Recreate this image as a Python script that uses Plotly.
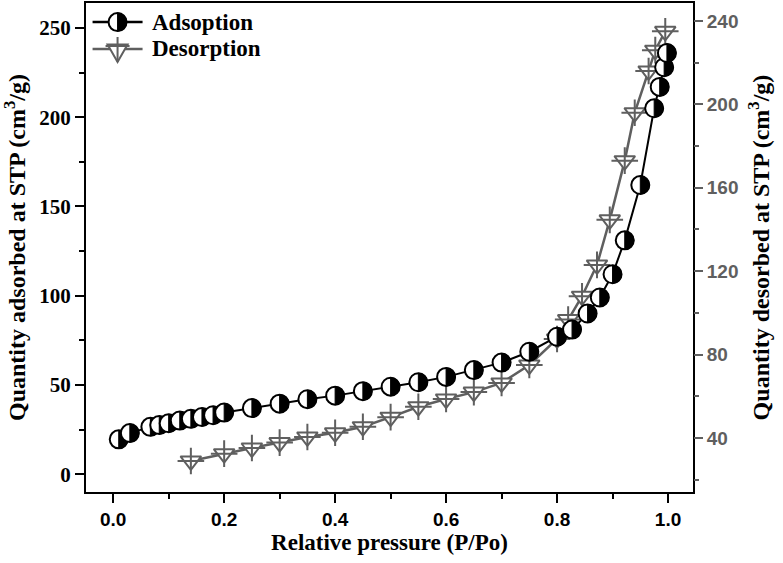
import plotly.graph_objects as go

# relative pressure / quantity values
ads_p = [0.01, 0.03, 0.067, 0.083, 0.10, 0.12, 0.14, 0.16, 0.18, 0.20, 0.25, 0.30, 0.35, 0.40,
         0.45, 0.50, 0.55, 0.60, 0.65, 0.70, 0.75, 0.80, 0.827, 0.855, 0.877, 0.90, 0.922,
         0.95, 0.975, 0.985, 0.993, 0.998]
ads_q = [19.5, 23, 26.5, 27.5, 28.5, 30, 31, 32, 33, 34.5, 37, 39.5, 42, 44,
         46.5, 49, 51.5, 54.5, 58.3, 62.5, 68.6, 77, 81, 90, 99, 112, 131,
         162, 205, 217, 228, 236]

des_p = [0.14, 0.20, 0.25, 0.30, 0.35, 0.40, 0.45, 0.50, 0.55, 0.60, 0.65, 0.70, 0.75,
         0.80, 0.82, 0.845, 0.872, 0.895, 0.922, 0.94, 0.965, 0.977, 0.995]
des_q = [29, 32.5, 35.2, 37.8, 40.5, 42.5, 45.4, 50, 55, 58.7, 62, 66.4, 75,
         87.5, 96.8, 108, 123, 144.6, 173, 196, 216, 226, 235]

series_names = ["Adsoption", "Desorption"]

GREY = "#5f5f5f"
SERIF = "Liberation Serif"
SANS = "Liberation Sans"
R = 9  # half-filled circle radius in px
K = 0.5523 * R
HALF = f"M0,{R} C{K:.2f},{R} {R},{K:.2f} {R},0 C{R},{-K:.2f} {K:.2f},{-R} 0,{-R} Z"


def half_circle(xa, ya, xref, yref):
    # white disc with black outline + black right half
    common = dict(xref=xref, yref=yref, xsizemode="pixel", ysizemode="pixel",
                  xanchor=xa, yanchor=ya)
    return [
        dict(type="circle", x0=-R, x1=R, y0=-R, y1=R, fillcolor="white",
             line=dict(color="black", width=2), **common),
        dict(type="path", path=HALF, fillcolor="black",
             line=dict(color="black", width=1), **common),
    ]


fig = go.Figure()

# adsorption line (markers drawn as shapes on top)
fig.add_trace(go.Scatter(x=ads_p, y=ads_q, mode="lines", showlegend=False,
                         line=dict(color="black", width=2), yaxis="y"))

# desorption on the right axis
fig.add_trace(go.Scatter(x=des_p, y=des_q, mode="lines+markers", showlegend=False,
                         line=dict(color=GREY, width=2.5), yaxis="y2",
                         marker=dict(symbol="triangle-down", size=18, color="white",
                                     line=dict(color=GREY, width=2))))
fig.add_trace(go.Scatter(x=des_p, y=des_q, mode="markers", showlegend=False, yaxis="y2",
                         marker=dict(symbol="cross-thin-open", size=19, color=GREY,
                                     line=dict(color=GREY, width=2))))

shapes = []
for p, q in zip(ads_p, ads_q):
    shapes += half_circle(p, q, "x", "y")

# ---- hand-made legend (top left, inside the frame) ----
lxm = 0.052
ly = [0.961, 0.906]
for i, yy in enumerate(ly):
    col = "black" if i == 0 else GREY
    shapes.append(dict(type="line", xref="paper", yref="paper", xsizemode="pixel",
                       ysizemode="pixel", xanchor=lxm, yanchor=yy,
                       x0=-25, x1=25, y0=0, y1=0, line=dict(color=col, width=2.5)))
shapes += half_circle(lxm, ly[0], "paper", "paper")
tri = "M-10,4.5 L10,4.5 L0,-13 Z"
shapes.append(dict(type="path", xref="paper", yref="paper", xsizemode="pixel",
                   ysizemode="pixel", xanchor=lxm, yanchor=ly[1], path=tri,
                   fillcolor="white", line=dict(color=GREY, width=2)))
shapes.append(dict(type="path", xref="paper", yref="paper", xsizemode="pixel",
                   ysizemode="pixel", xanchor=lxm, yanchor=ly[1],
                   path="M0,12 L0,-13 M-12,3 L12,3", line=dict(color=GREY, width=2)))

annotations = []
for name, yy in zip(series_names, ly):
    annotations.append(dict(text=name, x=0.105, y=yy, xref="paper", yref="paper",
                            xanchor="left", yanchor="middle", showarrow=False,
                            font=dict(family=SERIF, size=23, color="black", weight="bold")))

fig.update_layout(
    width=783, height=563,
    margin=dict(l=86, r=90, t=3, b=71),
    paper_bgcolor="white", plot_bgcolor="white",
    shapes=shapes, annotations=annotations,
    xaxis=dict(
        range=[-0.049, 1.045], tickmode="linear", tick0=0, dtick=0.2, tickformat=".1f",
        ticks="outside", ticklen=9, tickwidth=2, tickcolor="black",
        minor=dict(dtick=0.1, ticks="outside", ticklen=5, tickwidth=2, tickcolor="black"),
        showline=True, linecolor="black", linewidth=2, mirror=True,
        showgrid=False, zeroline=False, automargin=False,
        tickfont=dict(family=SANS, size=19, color="black", weight="bold"),
        title=dict(text="Relative pressure (P/Po)", standoff=0,
                   font=dict(family=SERIF, size=23, color="black", weight="bold")),
    ),
    yaxis=dict(
        range=[-10, 264], tickmode="linear", tick0=0, dtick=50,
        ticks="outside", ticklen=9, tickwidth=2, tickcolor="black",
        minor=dict(dtick=25, ticks="outside", ticklen=5, tickwidth=2, tickcolor="black"),
        showline=True, linecolor="black", linewidth=2, mirror=True,
        showgrid=False, zeroline=False, automargin=False,
        tickfont=dict(family=SERIF, size=21, color="black", weight="bold"),
        title=dict(text="Quantity adsorbed at STP (cm<sup>3</sup>/g)", standoff=8,
                   font=dict(family=SERIF, size=24, color="black", weight="bold")),
    ),
    yaxis2=dict(
        overlaying="y", side="right", range=[14.1, 248.6],
        tickmode="linear", tick0=40, dtick=40,
        ticks="outside", ticklen=9, tickwidth=2, tickcolor=GREY,
        minor=dict(tick0=20, dtick=40, ticks="outside", ticklen=5, tickwidth=2, tickcolor=GREY),
        showline=False, showgrid=False, zeroline=False, automargin=False,
        tickfont=dict(family=SANS, size=19, color=GREY, weight="bold"),
        title=dict(text="Quantity desorbed at STP (cm<sup>3</sup>/g)", standoff=14,
                   font=dict(family=SERIF, size=24, color="black", weight="bold")),
    ),
)

# drop the page's default body margin so the figure sits at (0, 0)
fig.write_html("out.html", config={"displayModeBar": False},
               post_script="document.body.style.margin='0';")
